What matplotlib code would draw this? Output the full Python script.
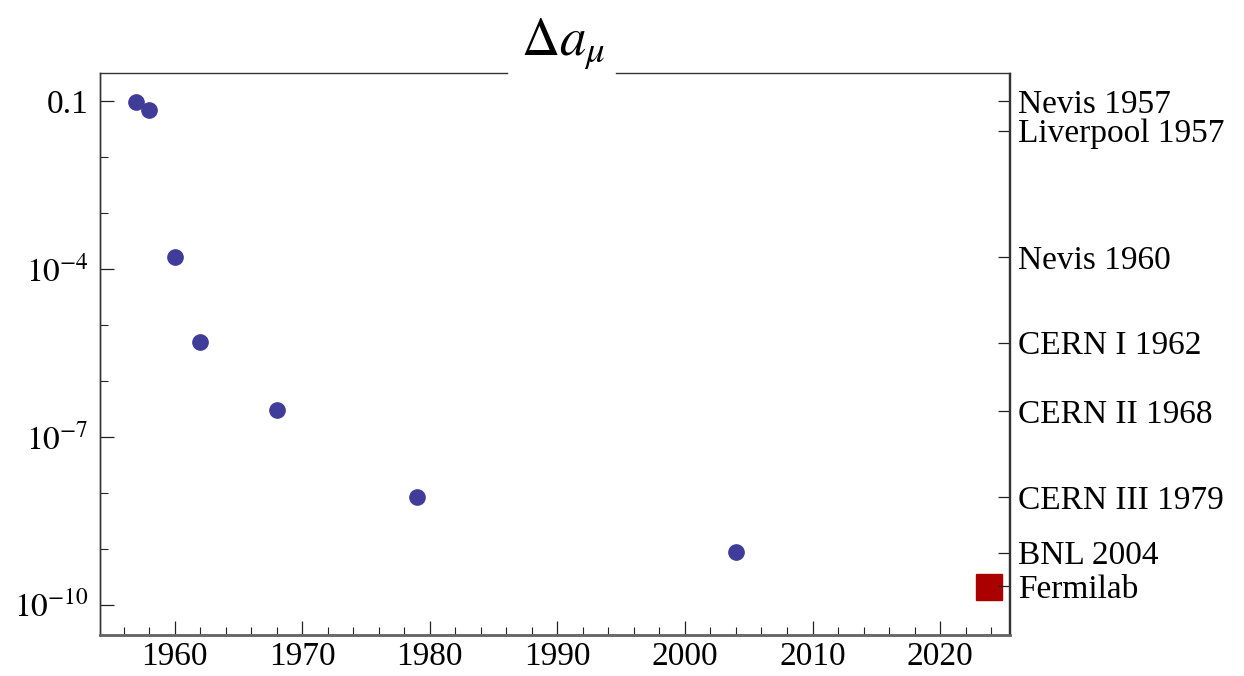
import matplotlib.pyplot as plt
import numpy as np
from matplotlib.ticker import FixedLocator, NullFormatter

plt.rcParams['font.family'] = ['Liberation Serif', 'DejaVu Serif']
plt.rcParams['mathtext.fontset'] = 'stix'

# measurements (year, Delta a_mu)
years = [1957, 1958, 1960, 1962, 1968, 1979, 2004]
delta = [0.096, 0.069, 1.6e-4, 5.0e-6, 3.0e-7, 8.5e-9, 8.9e-10]

# Fermilab expectation
fnal_year = [2023.8]
fnal_delta = [2.1e-10]

# right-hand labels and where their ticks sit
exp_labels = ['Nevis 1957', 'Liverpool 1957', 'Nevis 1960', 'CERN I 1962',
              'CERN II 1968', 'CERN III 1979', 'BNL 2004', 'Fermilab']
exp_ticks = [0.098, 0.0295, 1.6e-4, 4.8e-6, 2.9e-7, 8.3e-9, 8.5e-10, 2.15e-10]

yticks = [1e-1, 1e-4, 1e-7, 1e-10]
ytick_labels = ['0.1', r'$10^{-4}$', r'$10^{-7}$', r'$10^{-10}$']
yminor = [1e-2, 1e-3, 1e-5, 1e-6, 1e-8, 1e-9]

fig = plt.figure(figsize=(12.44, 6.76), dpi=100)
ax = fig.add_axes([100 / 1244, 41 / 676, 909.5 / 1244, 562 / 676])

ax.plot(years, delta, 'o', color='#3f3d99', markersize=11, zorder=3)
ax.plot(fnal_year, fnal_delta, 's', color='#aa0000', markersize=19.4, zorder=3)

ax.set_yscale('log')
ax.set_xlim(1954.15, 2025.44)
ax.set_ylim(10 ** -10.54, 10 ** -0.5)

ax.set_xticks(np.arange(1960, 2021, 10))
ax.xaxis.set_minor_locator(FixedLocator(np.arange(1956, 2025, 2)))
ax.set_yticks(yticks)
ax.set_yticklabels(ytick_labels)
ax.yaxis.set_minor_locator(FixedLocator(yminor))
ax.yaxis.set_minor_formatter(NullFormatter())

ax.tick_params(which='both', direction='in', labelsize=24, colors='#222222',
               labelcolor='black', top=False, right=False)
ax.tick_params(which='major', length=10, width=0.9)
ax.tick_params(axis='y', which='major', pad=8)
ax.tick_params(axis='x', which='major', pad=5)
ax.tick_params(which='minor', length=6, width=0.8)

# right axis with experiment names
ax2 = ax.twinx()
ax2.set_yscale('log')
ax2.set_ylim(ax.get_ylim())
ax2.set_yticks(exp_ticks)
ax2.set_yticklabels(exp_labels)
ax2.yaxis.set_minor_locator(FixedLocator([]))
ax2.tick_params(axis='y', direction='in', length=8, width=0.9, pad=6,
                labelsize=24, colors='#222222', labelcolor='black')

for a in (ax, ax2):
    a.spines['top'].set_visible(False)
    for s in ('left', 'right'):
        a.spines[s].set_color('#333333')
        a.spines[s].set_linewidth(1.0)
    a.spines['bottom'].set_color('#666666')
    a.spines['bottom'].set_linewidth(1.8)

# top frame line broken by the title
ax.plot([0, 0.448], [1, 1], color='#333333', lw=1.0, transform=ax.transAxes,
        clip_on=False)
ax.plot([0.567, 1], [1, 1], color='#333333', lw=1.0, transform=ax.transAxes,
        clip_on=False)
ax.text(0.509, 1.032, r'$\Delta a_\mu$', transform=ax.transAxes, ha='center',
        va='baseline', fontsize=38)

fig.savefig('out.png', dpi=100)
